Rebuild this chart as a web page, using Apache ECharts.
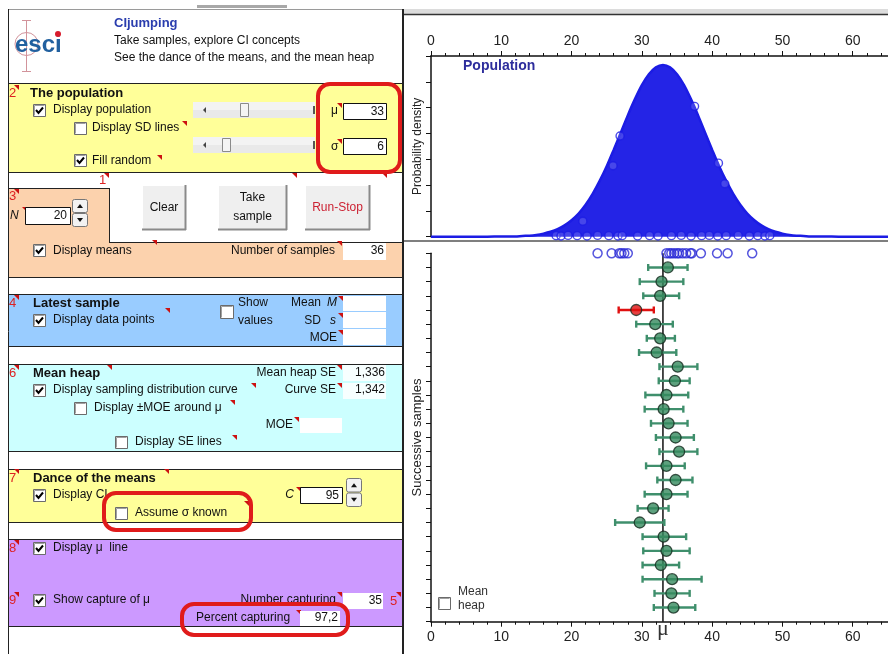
<!DOCTYPE html>
<html><head><meta charset="utf-8">
<script src="https://cdn.jsdelivr.net/npm/echarts@6/dist/echarts.min.js"></script>
<style>html,body{margin:0;padding:0;background:#fff}#c{width:888px;height:654px}</style>
</head><body><div id="c"></div>
<script>
// ---------------- data ----------------
const popX = [0,4,8,10,12,13,14,15,16,17,18,19,20,21,22,23,24,25,26,27,28,29,30,31,32,33,34,35,36,37,38,39,40,41,42,43,44,45,46,47,48,49,50,51,52,53,54,56,58,62,66,70];
const popDensity = [0,0,0,0.0001,0.0001,0.0003,0.0004,0.0007,0.0012,0.0019,0.0029,0.0044,0.0064,0.0090,0.0124,0.0166,0.0216,0.0273,0.0337,0.0403,0.0470,0.0532,0.0587,0.0629,0.0656,0.0665,0.0656,0.0629,0.0587,0.0532,0.0470,0.0403,0.0337,0.0273,0.0216,0.0166,0.0124,0.0090,0.0064,0.0044,0.0029,0.0019,0.0012,0.0007,0.0004,0.0003,0.0001,0.0001,0,0,0,0];
const popEdgeX = [17.8,18.5,19.5,20.8,22.2,23.7,25.3,26.6,27.2,29.4,31.1,32.3,34.2,35.6,37.0,38.5,39.6,40.8,42.0,43.7,45.3,46.5,47.5,48.2,25.9,26.9,40.9,41.8,37.5,21.6];
const popEdgeY = [0.0004,0.0003,0.0005,0.0004,0.0003,0.0005,0.0004,0.0003,0.0004,0.0003,0.0004,0.0003,0.0004,0.0005,0.0003,0.0004,0.0005,0.0003,0.0004,0.0005,0.0003,0.0004,0.0003,0.0004,0.0275,0.0390,0.0285,0.0205,0.0505,0.0060];
const sampleValues = [23.7,25.7,26.8,27.1,27.5,28.0,33.5,33.9,34.2,34.6,35.0,35.3,35.8,36.3,36.9,37.1,38.4,40.7,42.2,45.7];
const sampleRow = 0;
const rowNumbers = [1,2,3,4,5,6,7,8,9,10,11,12,13,14,15,16,17,18,19,20,21,22,23,24,25];
const means  = [33.7,32.8,32.6,29.2,31.9,32.6,32.1,35.1,34.7,33.5,33.1,33.8,34.8,35.3,33.5,34.8,33.5,31.6,29.7,33.1,33.5,32.7,34.3,34.2,34.5];
const ciLow  = [30.9,29.7,30.2,26.7,29.2,30.7,29.6,32.5,32.4,30.5,30.4,31.3,32.0,32.5,30.6,32.2,30.4,29.4,26.2,30.1,30.2,30.1,30.1,31.8,31.7];
const ciHigh = [36.5,35.9,35.3,31.7,34.4,34.7,34.9,37.9,36.8,36.6,35.9,36.5,37.4,37.9,36.1,37.2,36.5,33.8,33.2,36.3,36.8,35.3,38.5,36.8,37.6];
const muValue = 33;
const rowMin = 0, rowMax = 26;

// ---------------- styling ----------------
const FF = 'Arial, "Liberation Sans", sans-serif';
const RED_T = '#dd2222';
const GREEN_L = '#3f8f6c', GREEN_D = '#348a5e', RED_C = '#e01010';
const BLUE = '#1c1ce4';

const G = [];
function R(x,y,w,h,fill,stroke,lw,r){G.push({type:'rect',shape:{x:x,y:y,width:w,height:h,r:r||0},style:{fill:fill||'none',stroke:stroke||null,lineWidth:lw||1}});}
function L(x1,y1,x2,y2,c,w){G.push({type:'line',shape:{x1:x1,y1:y1,x2:x2,y2:y2},style:{stroke:c||'#000',lineWidth:w||1}});}
function T(x,y,s,o){o=o||{};G.push({type:'text',x:x,y:y,style:{text:s,font:o.font||('12px '+FF),fill:o.c||'#111',align:o.a||'left',verticalAlign:'middle',textAlign:o.a||'left',textVerticalAlign:'middle'}});}
function tri(x,y){G.push({type:'polygon',shape:{points:[[x,y],[x+5,y],[x+5,y+5]]},style:{fill:'#cc1111'}});}
function cb(x,y,checked,s){s=s||12;R(x+0.5,y+0.5,s,s,'#fff','#6b6b6b',1);L(x+1.5,y+1.5,x+s-0.5,y+1.5,'#a0a0a0',1);L(x+1.5,y+1.5,x+1.5,y+s-0.5,'#a0a0a0',1);
 if(checked){G.push({type:'polyline',shape:{points:[[x+3,y+6],[x+5.5,y+9],[x+10,y+3.5]]},style:{stroke:'#000',lineWidth:2,fill:null}});}}
function spinner(x,y,w,h){const hh=h/2;
 R(x+0.5,y+0.5,w,hh-1,'#f2f2f2','#777',1,2);R(x+0.5,y+hh+0.5,w,hh-1,'#f2f2f2','#777',1,2);
 const cx=x+w/2+0.5;
 G.push({type:'polygon',shape:{points:[[cx-3,y+hh/2+2],[cx+3,y+hh/2+2],[cx,y+hh/2-2]]},style:{fill:'#111'}});
 G.push({type:'polygon',shape:{points:[[cx-3,y+hh+hh/2-2],[cx+3,y+hh+hh/2-2],[cx,y+hh+hh/2+2]]},style:{fill:'#111'}});}
function slider(x,y,w,h,tx){R(x,y,w,h,'#e9e9e9',null);R(x,y,w,h/2,'#f3f3f3',null);
 G.push({type:'polygon',shape:{points:[[x+10,y+h/2],[x+13,y+h/2-3],[x+13,y+h/2+3]]},style:{fill:'#444'}});
 R(x+w-2,y+4,2,h-8,'#555',null);
 R(tx+0.5,y+1.5,8,h-3,'#f4f4f4','#8a8a8a',1);}
function btn(x,y,w,h,lines,col){R(x,y,w,h,'#efefef',null);L(x+0.5,y,x+0.5,y+h,'#fff',1);L(x,y+0.5,x+w,y+0.5,'#fff',1);
 L(x+w-0.5,y,x+w-0.5,y+h,'#8a8a8a',2);L(x,y+h-0.5,x+w,y+h-0.5,'#8a8a8a',2);
 const n=lines.length;lines.forEach((s,i)=>T(x+w/2,y+h/2+(i-(n-1)/2)*19,s,{a:'center',c:col||'#111'}));}
function redBox(x,y,w,h){G.push({type:'rect',shape:{x:x,y:y,width:w,height:h,r:12},style:{fill:'none',stroke:'#e01b1b',lineWidth:4}});}
const B = 'bold 13px '+FF, I = 'italic 12px '+FF, RN = '13px '+FF;

// ---------------- left panel ----------------
R(197,5,90,3,'#a8a8a8',null);
R(9,84,394,88,'#ffff99');
R(9,188,100,54,'#fcd2ad');
R(9,242,394,35,'#fcd2ad');
R(9,294,394,52,'#99ccff');
R(9,364,394,87,'#ccffff');
R(9,469,394,53,'#ffff99');
R(9,539,394,87,'#cc99ff');
L(8,9.5,403,9.5,'#9a9a9a',1);
L(8.5,9,8.5,654,'#222',1);
L(403,9,403,654,'#222',2);
[83.5,172.5,277.5,294.5,346.5,364.5,451.5,469.5,522.5,539.5,626.5].forEach(y=>L(8,y,403,y,'#222',1));
L(8,188.5,109.5,188.5,'#222',1);L(109.5,188,109.5,242,'#222',1);L(109,242.5,403,242.5,'#222',1);
// logo + header
L(26.5,20,26.5,72,'#d2939b',1);L(22,20.5,31,20.5,'#d2939b',1);L(22,71.5,31,71.5,'#d2939b',1);
G.push({type:'circle',shape:{cx:26.5,cy:44,r:11.5},style:{fill:'none',stroke:'#d2939b',lineWidth:1}});
T(15,45,'esci',{font:'bold 24px '+FF,c:'#21609f'});
G.push({type:'circle',shape:{cx:58,cy:34,r:3},style:{fill:'#d81b2c'}});
T(114,23,'CIjumping',{font:'bold 13px '+FF,c:'#2a3dae'});
T(114,41,'Take samples, explore CI concepts');
T(114,58,'See the dance of the means, and the mean heap');
// section 2
T(9,93,'2',{c:RED_T,font:RN});tri(14,85);
T(30,93,'The population',{font:B});
cb(33,104,true);T(53,110,'Display population');
cb(74,122,false);T(92,128,'Display SD lines');tri(182,121);
slider(193,102,122,16,240);
slider(193,137,122,16,222);
T(331,111,'μ');tri(337,103);R(343.5,103.5,43,16,'#fff','#111',1);T(384,112,'33',{a:'right'});
T(331,147,'σ');tri(337,139);R(343.5,138.5,43,16,'#fff','#111',1);T(384,147,'6',{a:'right'});
cb(74,154,true);T(92,161,'Fill random');tri(157,155);
// section 3 / buttons
T(99,180,'1',{c:RED_T,font:RN});tri(104,173);tri(292,173);tri(382,173);
T(9,196,'3',{c:RED_T,font:RN});tri(14,189);
T(10,216,'N',{font:I});tri(22,207);
R(25.5,207.5,45,17,'#fff','#111',1);T(67,216,'20',{a:'right'});
spinner(72,199,15,28);
btn(142,185,44,45,['Clear']);
btn(218,185,69,45,['Take','sample']);
btn(305,185,65,45,['Run-Stop'],'#cc2233');
// orange row
cb(33,244,true);T(53,251,'Display means');tri(152,240);
T(335,251,'Number of samples',{a:'right'});tri(337,241);
R(343,243,43,17,'#fff');T(384,251,'36',{a:'right'});
// section 4
T(9,303,'4',{c:RED_T,font:RN});tri(14,295);
T(33,303,'Latest sample',{font:B});
cb(33,314,true);T(53,320,'Display data points');tri(165,308);
cb(220,305,false,13);T(238,303,'Show');T(238,321,'values');
T(321,303,'Mean',{a:'right'});T(337,303,'M',{a:'right',font:I});tri(338,296);
T(321,321,'SD',{a:'right'});T(336,321,'s',{a:'right',font:I});tri(338,313);
T(337,338,'MOE',{a:'right'});tri(338,330);
R(343,296,43,15,'#fff');R(343,312,43,16,'#fff');R(343,329,43,16,'#fff');
// section 6
T(9,373,'6',{c:RED_T,font:RN});tri(14,365);
T(33,373,'Mean heap',{font:B});tri(107,365);
T(336,373,'Mean heap SE',{a:'right'});tri(337,365);R(343,365,43,16,'#f7ffff');T(385,373,'1,336',{a:'right'});
cb(33,384,true);T(53,390,'Display sampling distribution curve');tri(251,383);
T(336,390,'Curve SE',{a:'right'});tri(337,383);R(343,383,43,16,'#f7ffff');T(385,390,'1,342',{a:'right'});
cb(74,402,false);T(94,408,'Display ±MOE around μ');tri(230,400);
T(293,425,'MOE',{a:'right'});tri(294,417);R(300,418,42,15,'#fff');
cb(115,436,false);T(135,442,'Display SE lines');tri(232,435);
// section 7
T(9,478,'7',{c:RED_T,font:RN});tri(14,469);
T(33,478,'Dance of the means',{font:B});tri(164,469);
cb(33,489,true);T(53,495,'Display CI');
cb(115,507,false);T(135,513,'Assume σ known');tri(244,501);
T(294,495,'C',{a:'right',font:I});tri(296,487);
R(300.5,487.5,42,16,'#fff','#111',1);T(339,496,'95',{a:'right'});
spinner(346,478,15,29);
// section 8/9
T(9,548,'8',{c:RED_T,font:RN});tri(14,540);
cb(33,542,true);T(53,548,'Display μ  line');
T(9,600,'9',{c:RED_T,font:RN});tri(14,592);
cb(33,594,true);T(53,600,'Show capture of μ');
T(336,600,'Number capturing',{a:'right'});tri(337,592);
R(343,593,40,16,'#fff');T(382,601,'35',{a:'right'});
T(390,601,'5',{c:RED_T,font:RN});tri(396,592);
T(196,618,'Percent capturing');tri(296,610);
R(300,611,40,15,'#fff');T(338,618,'97,2',{a:'right'});
redBox(318,84,82,88);
redBox(104,493,147,37);
redBox(182,604,166,31);

// ---------------- right panel decoration ----------------
R(404,9,484,5,'#dcdcdc',null);
L(404,14.5,888,14.5,'#333',1.5);
L(404,241,888,241,'#555',1.5);
T(463,66,'Population',{font:'bold 14px '+FF,c:'#2d2d9c'});
cb(438,597,false);
T(458,592,'Mean',{c:'#333'});T(458,606,'heap',{c:'#333'});
T(663,629,'μ',{a:'center',font:'22px "Liberation Serif","DejaVu Serif",serif',c:'#333'});

// ---------------- chart ----------------
const chart = echarts.init(document.getElementById('c'), null, {renderer:'canvas'});
const axisText = {fontSize:14,color:'#222',fontFamily:FF};
const popData = popX.map((x,i)=>[x,popDensity[i]]);
const popEdge = popEdgeX.map((x,i)=>[x,popEdgeY[i]]);
const sampleData = sampleValues.map(v=>[v,sampleRow]);
const isCaptured = i => ciLow[i]<=muValue && ciHigh[i]>=muValue;
const ciData = rowNumbers.map((r,i)=>[ciLow[i],ciHigh[i],r,isCaptured(i)?1:0]);
const meanData = rowNumbers.map((r,i)=>({value:[means[i],r],itemStyle:{color:isCaptured(i)?GREEN_D:RED_C}}));

chart.setOption({
  animation:false,
  backgroundColor:'#fff',
  grid:[
    {left:431,top:56,width:492,height:180.7,outerBoundsMode:'none',containLabel:false},
    {left:431,top:253.3,width:492,height:368.4,outerBoundsMode:'none',containLabel:false}
  ],
  xAxis:[
    {gridIndex:0,type:'value',position:'top',min:0,max:70,interval:10,
     axisLine:{onZero:false,lineStyle:{color:'#111',width:1.5}},axisTick:{length:5,lineStyle:{color:'#111'}},
     minorTick:{show:true,splitNumber:5,length:3,lineStyle:{color:'#111'}},
     axisLabel:Object.assign({margin:8},axisText),splitLine:{show:false}},
    {gridIndex:1,type:'value',position:'bottom',min:0,max:70,interval:10,
     axisLine:{onZero:false,lineStyle:{color:'#111',width:1.5}},axisTick:{length:5,lineStyle:{color:'#111'}},
     minorTick:{show:true,splitNumber:5,length:3,lineStyle:{color:'#111'}},
     axisLabel:Object.assign({margin:8},axisText),splitLine:{show:false}}
  ],
  yAxis:[
    {gridIndex:0,type:'value',min:0,max:0.07,interval:0.01,
     name:'Probability density',nameLocation:'middle',nameGap:7,nameRotate:90,
     nameTextStyle:{fontSize:12,color:'#222',fontFamily:FF},
     axisLine:{show:true,onZero:false,lineStyle:{color:'#111',width:1.5}},axisTick:{show:true,length:5,lineStyle:{color:'#111'}},
     axisLabel:{show:false},splitLine:{show:false}},
    {gridIndex:1,type:'value',min:rowMin,max:rowMax,interval:1,inverse:true,
     name:'Successive samples',nameLocation:'middle',nameGap:7,nameRotate:90,
     nameTextStyle:{fontSize:13,color:'#222',fontFamily:FF},
     axisLine:{show:true,onZero:false,lineStyle:{color:'#111',width:1.5}},axisTick:{show:true,length:5,lineStyle:{color:'#111'}},
     axisLabel:{show:false},splitLine:{show:false}}
  ],
  graphic:{elements:G},
  series:[
    {type:'line',xAxisIndex:0,yAxisIndex:0,data:popData,smooth:0.3,showSymbol:false,symbol:'none',
     lineStyle:{color:BLUE,width:2.5},areaStyle:{color:'#2424e6',opacity:1},z:2},
    {type:'scatter',xAxisIndex:0,yAxisIndex:0,data:popEdge,symbol:'circle',symbolSize:8,
     itemStyle:{color:'rgba(255,255,255,0.2)',borderColor:BLUE,borderWidth:1.4},z:3},
    {type:'line',xAxisIndex:1,yAxisIndex:1,data:[[muValue,rowMin],[muValue,rowMax]],symbol:'none',
     lineStyle:{color:'#111',width:1.5},z:2},
    {type:'scatter',xAxisIndex:1,yAxisIndex:1,data:sampleData,symbol:'circle',symbolSize:9,
     itemStyle:{color:'rgba(255,255,255,0)',borderColor:'#2a2ad6',borderWidth:1.5},z:4},
    {type:'custom',xAxisIndex:1,yAxisIndex:1,data:ciData,encode:{x:[0,1],y:2},z:3,
     renderItem:function(params,api){
       const lo=api.coord([api.value(0),api.value(2)]);
       const hi=api.coord([api.value(1),api.value(2)]);
       const col=api.value(3)?GREEN_L:RED_C;
       const h=3.5, st={stroke:col,lineWidth:2.4};
       return {type:'group',children:[
         {type:'line',shape:{x1:lo[0],y1:lo[1],x2:hi[0],y2:hi[1]},style:st},
         {type:'line',shape:{x1:lo[0],y1:lo[1]-h,x2:lo[0],y2:lo[1]+h},style:st},
         {type:'line',shape:{x1:hi[0],y1:hi[1]-h,x2:hi[0],y2:hi[1]+h},style:st}
       ]};
     }},
    {type:'scatter',xAxisIndex:1,yAxisIndex:1,data:meanData,symbol:'circle',symbolSize:11,z:5,
     itemStyle:{borderColor:'#142a1e',borderWidth:1.3}}
  ]
});
</script>
</body></html>
